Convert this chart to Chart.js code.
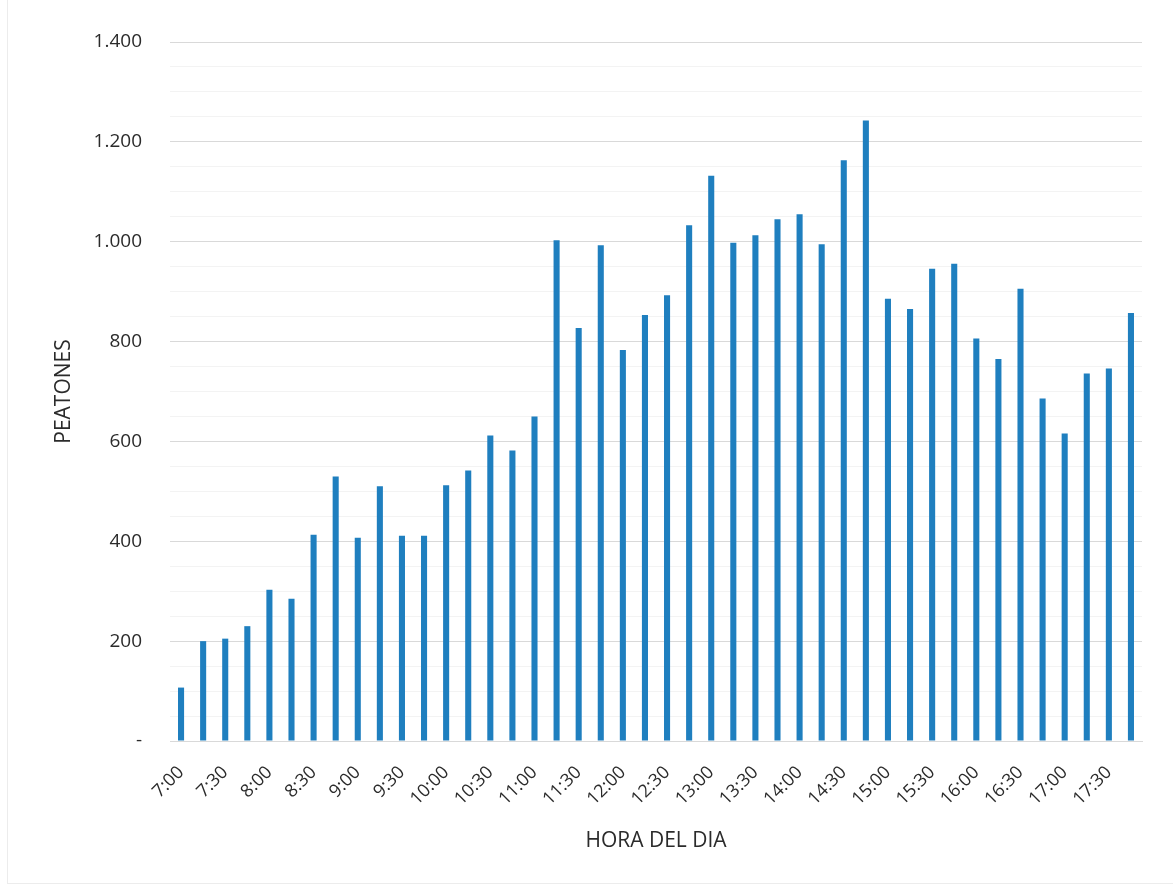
<!DOCTYPE html>
<html>
<head>
<meta charset="utf-8">
<script src="https://cdn.jsdelivr.net/npm/chart.js@4"></script>
<style>
  html, body { margin: 0; padding: 0; background: #fff; }
  #wrap { position: relative; width: 1173px; height: 887px; }
  #frame { position: absolute; left: 7px; top: 0; width: 1166px; height: 883px;
           border-left: 1px solid #ececec; border-bottom: 1px solid #ececec; pointer-events: none; }
</style>
</head>
<body>
<div id="wrap"><canvas id="chart" width="1173" height="887"></canvas><div id="frame"></div></div>
<script>
// 15-minute intervals from 7:00 to 17:45
const horas = [
  '7:00', '7:15', '7:30', '7:45', '8:00', '8:15', '8:30', '8:45',
  '9:00', '9:15', '9:30', '9:45', '10:00', '10:15', '10:30', '10:45',
  '11:00', '11:15', '11:30', '11:45', '12:00', '12:15', '12:30', '12:45',
  '13:00', '13:15', '13:30', '13:45', '14:00', '14:15', '14:30', '14:45',
  '15:00', '15:15', '15:30', '15:45', '16:00', '16:15', '16:30', '16:45',
  '17:00', '17:15', '17:30', '17:45'
];
const peatones = [
  107, 200, 205, 230, 303, 285, 413, 530,
  407, 510, 411, 411, 512, 542, 612, 582,
  650, 1003, 827, 993, 783, 853, 893, 1033,
  1132, 998, 1013, 1045, 1055, 995, 1163, 1243,
  886, 865, 946, 956, 806, 765, 906, 686,
  616, 736, 746, 857
];
const yMax = 1400;
const yStepMajor = 200;
const yStepMinor = 50;

const textColor = '#2b2b2b';
const fontFamily = "'Open Sans', 'Liberation Sans', sans-serif";

// thousands with a dot, zero shown as a dash
function formatPeatones(v) {
  if (v === 0) return '-';
  return String(v).replace(/\B(?=(\d{3})+(?!\d))/g, '.');
}

new Chart(document.getElementById('chart'), {
  type: 'bar',
  data: {
    labels: horas,
    datasets: [{
      label: 'Peatones',
      data: peatones,
      backgroundColor: '#1f7fbf',
      barPercentage: 0.55,
      categoryPercentage: 0.5
    }]
  },
  options: {
    responsive: false,
    animation: false,
    layout: { padding: { left: 0, right: 31, top: 42, bottom: 0 } },
    plugins: { legend: { display: false }, tooltip: { enabled: false } },
    scales: {
      x: {
        afterFit: s => { s.height = 146; },
        grid: { display: false },
        border: { color: '#d9d9d9' },
        ticks: {
          autoSkip: false,
          minRotation: 45,
          maxRotation: 45,
          padding: 13,
          color: textColor,
          font: { family: fontFamily, size: 18 },
          callback: (v, i) => (i % 2 === 0 ? horas[i] : '')
        },
        title: {
          display: true,
          text: 'HORA DEL DIA',
          color: textColor,
          font: { family: fontFamily, size: 21 },
          padding: { top: 0, bottom: 33 }
        }
      },
      y: {
        min: 0,
        max: yMax,
        afterFit: s => { s.width = 170; },
        border: { display: false },
        grid: {
          drawTicks: false,
          color: c => (c.tick.value % yStepMajor === 0 ? '#d9d9d9' : '#f3f3f3')
        },
        ticks: {
          stepSize: yStepMinor,
          autoSkip: false,
          padding: 28,
          color: textColor,
          font: { family: fontFamily, size: 19 },
          callback: v => (v % yStepMajor === 0 ? formatPeatones(v) : '')
        },
        title: {
          display: true,
          text: 'PEATONES',
          color: textColor,
          font: { family: fontFamily, size: 21 },
          padding: { top: 51, bottom: 0 }
        }
      }
    }
  }
});
</script>
</body>
</html>
